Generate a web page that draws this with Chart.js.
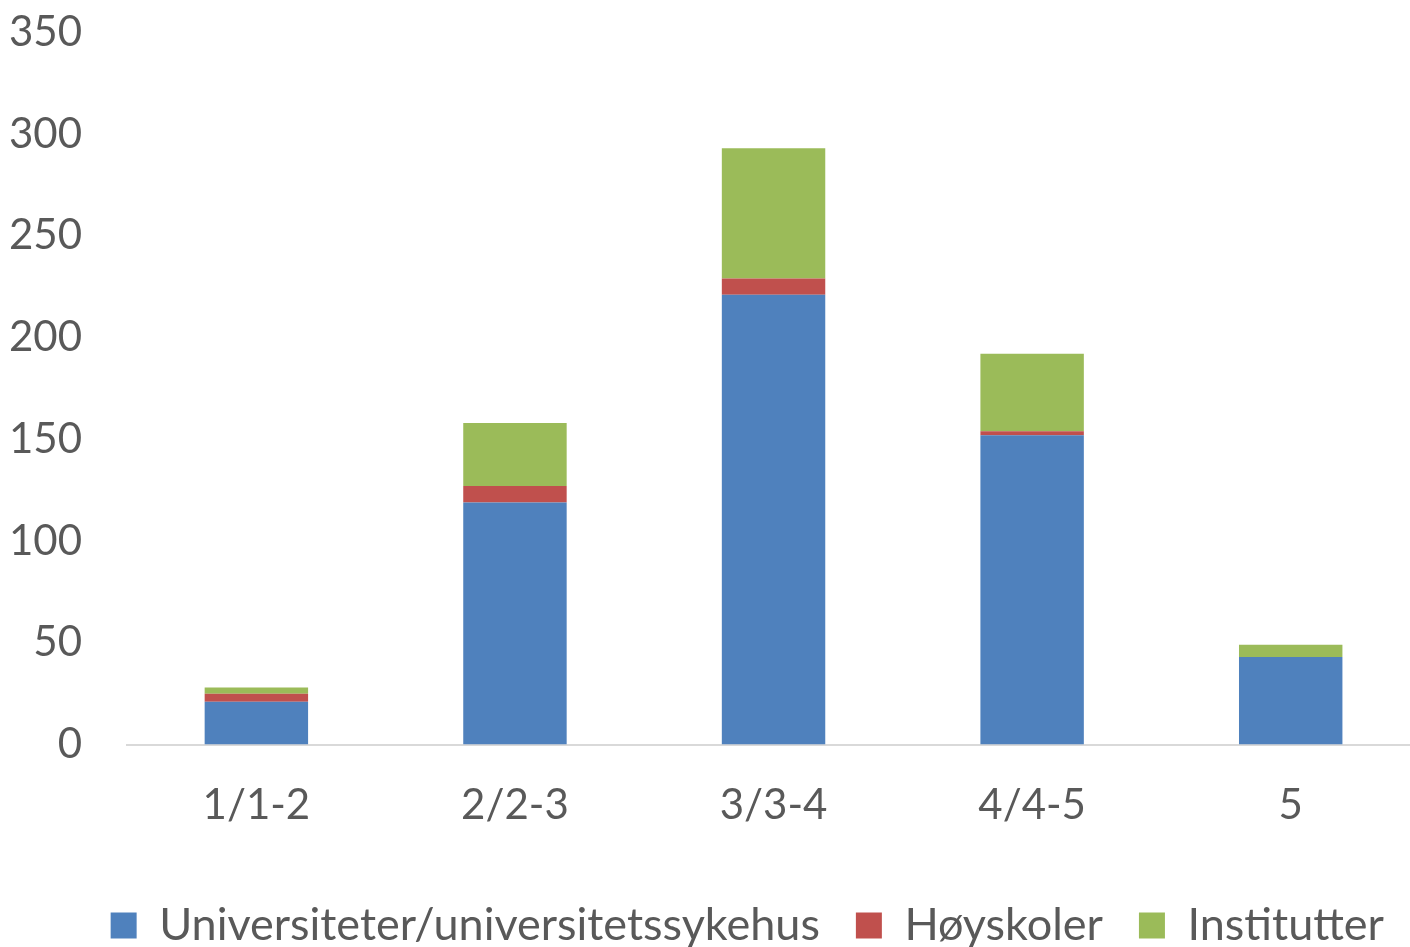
<!DOCTYPE html>
<html>
<head>
<meta charset="utf-8">
<script src="https://cdn.jsdelivr.net/npm/chart.js@4/dist/chart.umd.min.js"></script>
<style>
  html, body { margin: 0; padding: 0; background: #fff; overflow: hidden; }
  #view { width: 1410px; height: 947px; overflow: hidden; position: relative; }
  #wrap { width: 1420px; height: 996px; position: absolute; left: 0; top: -38px; }
</style>
</head>
<body>
<div id="view"><div id="wrap"><canvas id="chart"></canvas></div></div>
<script>
// categories and series
const categories = ["1/1-2", "2/2-3", "3/3-4", "4/4-5", "5"];
const universiteter = [21, 119, 221, 152, 43];
const hoyskoler = [4, 8, 8, 2, 0];
const institutter = [3, 31, 64, 38, 6];

const fontFamily = "Lato, 'Open Sans', sans-serif";

new Chart(document.getElementById("chart"), {
    type: "bar",
    data: {
        labels: categories,
        datasets: [
            { label: "Universiteter/universitetssykehus", data: universiteter, backgroundColor: "#4F81BD" },
            { label: "Høyskoler", data: hoyskoler, backgroundColor: "#C0504D" },
            { label: "Institutter", data: institutter, backgroundColor: "#9BBB59" }
        ]
    },
    options: {
        responsive: true,
        maintainAspectRatio: false,
        animation: false,
        layout: { padding: { top: 0, left: -36, right: 0, bottom: 0 } },
        datasets: {
            bar: { categoryPercentage: 1, barPercentage: 0.4 }
        },
        plugins: {
            tooltip: { enabled: false },
            legend: {
                position: "bottom",
                align: "end",
                labels: {
                    font: { family: fontFamily, size: 45 },
                    color: "#595959",
                    boxWidth: 26,
                    boxHeight: 26,
                    padding: 36
                }
            }
        },
        scales: {
            x: {
                stacked: true,
                grid: { display: false, drawTicks: false },
                border: { color: "#d9d9d9", width: 2 },
                ticks: {
                    font: { family: fontFamily, size: 42 },
                    color: "#595959",
                    padding: 36
                }
            },
            y: {
                stacked: true,
                min: 0,
                max: 350,
                grid: { display: false, drawTicks: false },
                border: { display: false },
                ticks: {
                    stepSize: 50,
                    font: { family: fontFamily, size: 42 },
                    color: "#595959",
                    padding: 45
                }
            }
        }
    }
});
</script>
</body>
</html>
